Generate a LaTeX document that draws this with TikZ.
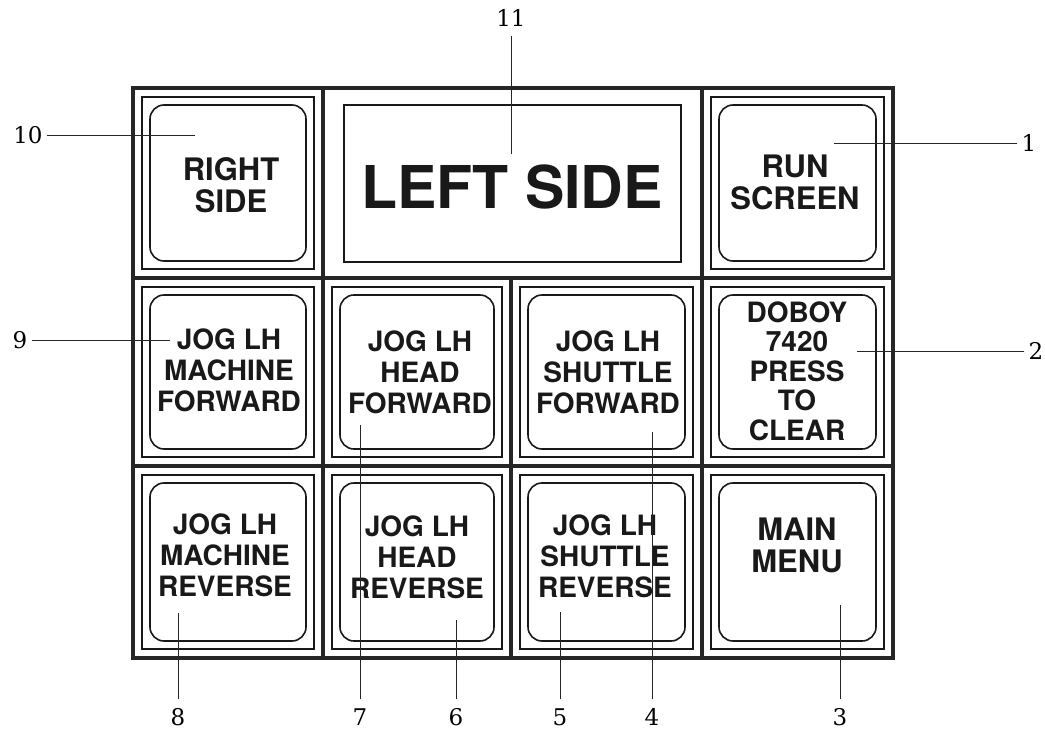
\documentclass[tikz,border=0pt]{standalone}
\usepackage{fontspec}
\newfontfamily\hv{TeX Gyre Heros}
\newfontfamily\numfont{DejaVu Serif}
\begin{document}
\begin{tikzpicture}[x=1pt,y=-1pt,
  gridline/.style={line width=3.2pt, draw=black!85, line cap=rect},
  innersq/.style={line width=1.5pt, draw=black!90},
  rbox/.style={line width=1.6pt, draw=black!90, rounded corners=14pt},
  btn/.style={font=\hv\bfseries\fontsize{28}{31}\selectfont, align=center, inner sep=0pt, text=black!90},
  big/.style={font=\hv\bfseries\fontsize{31}{32}\selectfont, align=center, inner sep=0pt, text=black!90},
  lab/.style={font=\numfont\fontsize{23}{23}\selectfont, inner xsep=4pt, inner ysep=9pt},
  callout/.style={line width=0.9pt, draw=black!85}]
\useasboundingbox (0,0) rectangle (1045,733);
\newcommand\cellbtn[4]{%
  \draw[innersq] ({#1+9},{#2+9}) rectangle ({#3-9},{#4-9});
  \draw[rbox] ({#1+17},{#2+17}) rectangle ({#3-17},{#4-17});}
% grid
\draw[gridline] (133,88) rectangle (893,658);
\draw[gridline] (323,88) -- (323,658);
\draw[gridline] (702,88) -- (702,658);
\draw[gridline] (511,278) -- (511,658);
\draw[gridline] (133,278) -- (893,278);
\draw[gridline] (133,466) -- (893,466);
% buttons
\cellbtn{133}{88}{323}{278}
\cellbtn{702}{88}{893}{278}
\cellbtn{133}{278}{323}{466}
\cellbtn{323}{278}{511}{466}
\cellbtn{511}{278}{702}{466}
\cellbtn{702}{278}{893}{466}
\cellbtn{133}{466}{323}{658}
\cellbtn{323}{466}{511}{658}
\cellbtn{511}{466}{702}{658}
\cellbtn{702}{466}{893}{658}
\draw[innersq] (344,105) rectangle (681,262);
% texts
\node[big] (t10) at (231,185) {RIGHT\\SIDE};
\node[font=\hv\bfseries\fontsize{59}{60}\selectfont, inner sep=0pt, text=black!90] (t11) at (512,187) {LEFT SIDE};
\node[big] (t1) at (795,182) {RUN\\SCREEN};
\node[btn] (t9) at (229,370) {JOG LH\\MACHINE\\FORWARD};
\node[btn] (t7) at (420,372) {JOG LH\\HEAD\\FORWARD};
\node[btn] (t4) at (608,372) {JOG LH\\SHUTTLE\\FORWARD};
\node[btn, font=\hv\bfseries\fontsize{28}{29.5}\selectfont] (t2) at (797,371) {DOBOY\\7420\\PRESS\\TO\\CLEAR};
\node[btn] (t8) at (225,555) {JOG LH\\MACHINE\\REVERSE};
\node[btn] (t6) at (417,557) {JOG LH\\HEAD\\REVERSE};
\node[btn] (t5) at (605,556) {JOG LH\\SHUTTLE\\REVERSE};
\node[big] (t3) at (797,545) {MAIN\\MENU};
% callouts
\node[lab] (n11) at (511,18) {11};
\node[lab] (n10) at (28,135) {10};
\node[lab] (n1) at (1029,143) {1};
\node[lab] (n9) at (20,340) {9};
\node[lab] (n2) at (1036,351) {2};
\node[lab] (n8) at (178,717) {8};
\node[lab] (n7) at (360,717) {7};
\node[lab] (n6) at (456,717) {6};
\node[lab] (n5) at (560,717) {5};
\node[lab] (n4) at (652,717) {4};
\node[lab] (n3) at (840,717) {3};
\coordinate (c11) at (511,154);
\coordinate (c10) at (195,135);
\coordinate (c1) at (834,143);
\coordinate (c9) at (170,340);
\coordinate (c2) at (857,351);
\coordinate (c8) at (178,613);
\coordinate (c7) at (360,425);
\coordinate (c6) at (456,620);
\coordinate (c5) at (560,612);
\coordinate (c4) at (652,432);
\coordinate (c3) at (840,605);
\foreach \k in {11,10,1,9,2,8,7,6,5,4,3}
  \draw[callout] (n\k) -- (c\k);
\end{tikzpicture}
\end{document}
